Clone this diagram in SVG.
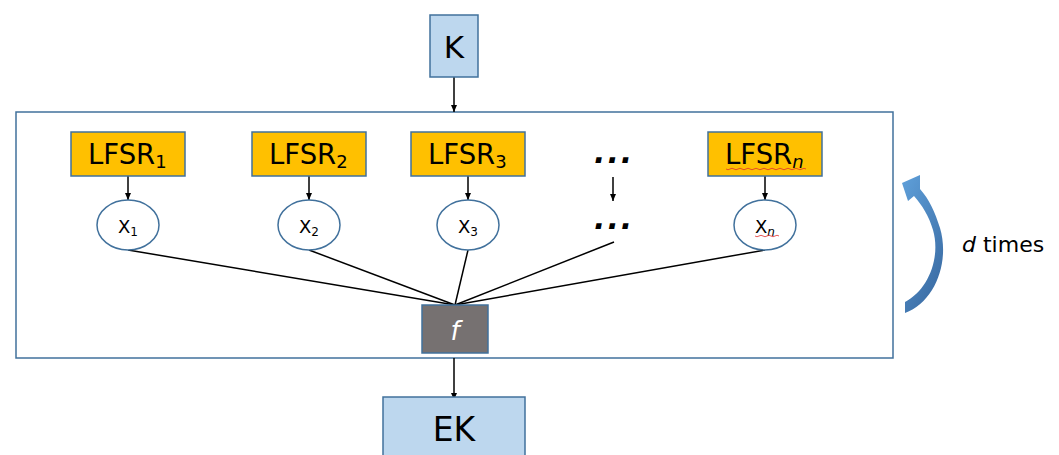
<svg xmlns="http://www.w3.org/2000/svg" width="1059" height="455" viewBox="0 0 1059 455">
<style>
.t{font-family:"DejaVu Sans","Liberation Sans",sans-serif;fill:#000}
.blue{fill:#BDD7EE;stroke:#41719C;stroke-width:1.5}
.lfsr{fill:#FFC000;stroke:#41719C;stroke-width:1.5}
.ell{fill:#fff;stroke:#41719C;stroke-width:1.5}
.ln{stroke:#000;stroke-width:1.5;fill:none}
.sq{stroke:#E03030;stroke-width:0.8;fill:none}
.dots{font-family:"DejaVu Sans",sans-serif;font-size:30px;font-weight:bold;font-style:italic;letter-spacing:2px}
</style>
<defs>
<marker id="ah" markerWidth="8" markerHeight="8" refX="7" refY="4" orient="auto" markerUnits="userSpaceOnUse">
<path d="M0,1 L7,4 L0,7 Z" fill="#000"/>
</marker>
<linearGradient id="cg" x1="0" y1="0" x2="0.6" y2="1">
<stop offset="0" stop-color="#5FA0DA"/>
<stop offset="1" stop-color="#3C6EA6"/>
</linearGradient>
</defs>
<rect x="0" y="0" width="1059" height="455" fill="#fff"/>
<g id="frame"><rect x="16" y="112" width="877" height="246" fill="none" stroke="#41719C" stroke-width="1.5"/></g>
<g id="connectors">
<line class="ln" x1="454" y1="77" x2="454" y2="112" marker-end="url(#ah)"/>
<line class="ln" x1="128" y1="176" x2="128" y2="200" marker-end="url(#ah)"/>
<line class="ln" x1="309" y1="176" x2="309" y2="200" marker-end="url(#ah)"/>
<line class="ln" x1="468" y1="176" x2="468" y2="200" marker-end="url(#ah)"/>
<line class="ln" x1="765" y1="176" x2="765" y2="200" marker-end="url(#ah)"/>
<line class="ln" x1="613" y1="177" x2="613" y2="201" marker-end="url(#ah)"/>
<line class="ln" x1="128" y1="250" x2="455" y2="305"/>
<line class="ln" x1="309" y1="250" x2="455" y2="305"/>
<line class="ln" x1="468" y1="250" x2="455" y2="305"/>
<line class="ln" x1="614" y1="242" x2="455" y2="305"/>
<line class="ln" x1="765" y1="250" x2="455" y2="305"/>
<line class="ln" x1="454" y1="358" x2="454" y2="400" marker-end="url(#ah)"/>
</g>
<g id="K"><rect class="blue" x="430" y="15" width="48" height="62"/><text class="t" x="454" y="58" font-size="31" text-anchor="middle">K</text></g>
<g id="LFSR1"><rect class="lfsr" x="71" y="132" width="114" height="44"/><text class="t" x="88" y="164" font-size="27.5">LFSR<tspan font-size="18" dy="4">1</tspan></text></g>
<g id="LFSR2"><rect class="lfsr" x="252" y="132" width="114" height="44"/><text class="t" x="269" y="164" font-size="27.5">LFSR<tspan font-size="18" dy="4">2</tspan></text></g>
<g id="LFSR3"><rect class="lfsr" x="411" y="132" width="114" height="44"/><text class="t" x="428" y="164" font-size="27.5">LFSR<tspan font-size="18" dy="4">3</tspan></text></g>
<g id="dots1"><text class="dots" x="594" y="163">...</text></g>
<g id="LFSRn"><rect class="lfsr" x="708" y="132" width="114" height="44"/><text class="t" x="725" y="164" font-size="27.5">LFSR<tspan font-size="18" font-style="italic" dy="4">n</tspan></text>
<path class="sq" d="M726,169 q2,1.5 4,0 t4,0 t4,0 t4,0 t4,0 t4,0 t4,0 t4,0 t4,0 t4,0 t4,0 t4,0 t4,0 t4,0 t4,0 t4,0 t4,0 t4,0 t4,0 t4,0"/></g>
<g id="X1"><ellipse class="ell" cx="128" cy="225" rx="31" ry="25"/><text class="t" x="118" y="233" font-size="18">X<tspan font-size="12" dy="3">1</tspan></text></g>
<g id="X2"><ellipse class="ell" cx="309" cy="225" rx="31" ry="25"/><text class="t" x="299" y="233" font-size="18">X<tspan font-size="12" dy="3">2</tspan></text></g>
<g id="X3"><ellipse class="ell" cx="468" cy="225" rx="31" ry="25"/><text class="t" x="458" y="233" font-size="18">X<tspan font-size="12" dy="3">3</tspan></text></g>
<g id="dots2"><text class="dots" x="594" y="229">...</text></g>
<g id="Xn"><ellipse class="ell" cx="765" cy="225" rx="31" ry="25"/><text class="t" x="755" y="233" font-size="18">X<tspan font-size="12" font-style="italic" dy="3">n</tspan></text>
<path class="sq" d="M755,236 q2,1.5 4,0 t4,0 t4,0 t4,0 t4,0 t4,0"/></g>
<g id="f"><rect x="422" y="305" width="66" height="48" fill="#767171" stroke="#41719C" stroke-width="1.5"/><text x="455" y="340" font-size="26" font-style="italic" fill="#fff" text-anchor="middle" font-family="DejaVu Sans,sans-serif">f</text></g>
<g id="EK"><rect class="blue" x="383" y="397" width="142" height="62"/><text class="t" x="454" y="441" font-size="33" text-anchor="middle">EK</text></g>
<g id="loop">
<path d="M905 313 C935 302, 950 262, 940 228 C935 212, 929 199, 920 189 L920 175 L902 183 L908 201 L914 196 C922 205, 929 216, 933 230 C941 258, 928 290, 905 302 Z" fill="url(#cg)"/>
<text class="t" x="962" y="252" font-size="22"><tspan font-style="italic">d</tspan> times</text>
</g>
</svg>
